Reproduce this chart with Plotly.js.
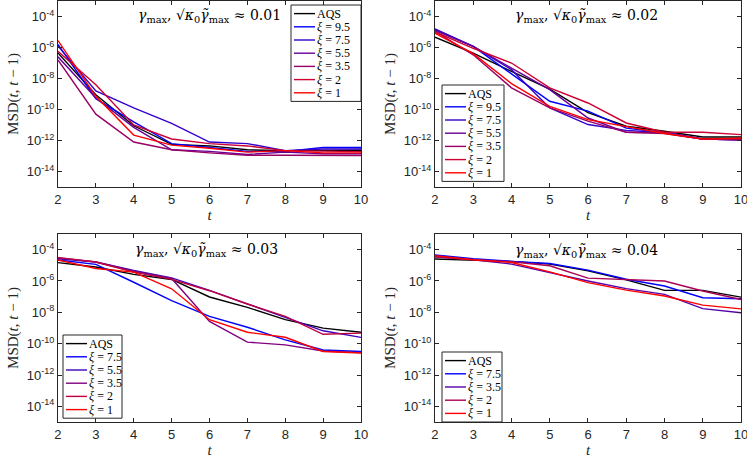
<!DOCTYPE html>
<html>
<head>
<meta charset="utf-8">
<script src="https://cdn.plot.ly/plotly-3.0.1.min.js"></script>
<style>
  body { margin: 0; background: #fff; }
  #chart { width: 747px; height: 458px; }
</style>
</head>
<body>
<div id="chart"></div>
<script>
// time steps shared by every panel
var steps = [2, 3, 4, 5, 6, 7, 8, 9, 10]

// values are log10 of MSD(t, t-1)
// panel a: gamma ~ 0.01
var a_AQS = [-6.35, -9.05, -11.05, -12.25, -12.35, -12.6, -12.65, -12.65, -12.63]
var a_xi95 = [-5.8, -9.3, -10.8, -12.2, -12.45, -12.7, -12.7, -12.45, -12.45]
var a_xi75 = [-5.9, -8.8, -9.9, -10.9, -12.1, -12.2, -12.65, -12.55, -12.55]
var a_xi55 = [-6.6, -9.25, -11.15, -12.6, -12.7, -12.9, -12.75, -12.85, -12.85]
var a_xi35 = [-6.8, -10.3, -12.1, -12.6, -12.8, -12.95, -12.95, -12.97, -12.97]
var a_xi2 = [-6.25, -8.4, -11.0, -11.9, -12.2, -12.35, -12.65, -12.7, -12.72]
var a_xi1 = [-5.55, -9.15, -11.65, -12.3, -12.5, -12.75, -12.65, -12.8, -12.8]

// panel b: gamma ~ 0.02
var b_AQS = [-5.33, -6.36, -7.54, -8.68, -10.2, -11.08, -11.4, -11.77, -11.77]
var b_xi95 = [-4.85, -5.93, -7.7, -9.47, -10.1, -11.2, -11.5, -11.9, -11.95]
var b_xi75 = [-4.8, -5.93, -7.43, -9.9, -10.97, -11.35, -11.5, -11.9, -11.95]
var b_xi55 = [-4.9, -5.93, -7.33, -8.72, -10.55, -11.47, -11.5, -11.9, -11.95]
var b_xi35 = [-4.95, -6.47, -8.6, -9.9, -10.75, -11.47, -11.55, -11.9, -11.95]
var b_xi2 = [-5.0, -6.05, -7.0, -8.6, -9.58, -10.87, -11.47, -11.47, -11.62]
var b_xi1 = [-5.07, -6.4, -8.33, -9.8, -10.65, -11.12, -11.55, -11.9, -11.85]

// panel c: gamma ~ 0.03
var c_AQS = [-4.83, -5.11, -5.58, -5.9, -7.02, -7.68, -8.47, -9.01, -9.27]
var c_xi75 = [-4.66, -4.94, -6.08, -7.25, -8.26, -8.95, -9.76, -10.4, -10.5]
var c_xi55 = [-4.58, -4.79, -5.33, -5.8, -6.6, -7.47, -8.3, -9.18, -9.6]
var c_xi35 = [-4.51, -4.79, -5.38, -5.84, -8.58, -9.9, -10.08, -10.47, -10.57]
var c_xi2 = [-4.51, -4.79, -5.43, -5.9, -6.62, -7.47, -8.26, -9.4, -9.33]
var c_xi1 = [-4.66, -5.2, -5.43, -6.5, -8.47, -9.27, -9.59, -10.5, -10.6]

// panel d: gamma ~ 0.04
var d_AQS = [-4.6, -4.66, -4.75, -4.92, -5.35, -5.93, -6.6, -6.6, -7.03]
var d_xi75 = [-4.34, -4.58, -4.75, -4.88, -5.31, -5.89, -6.32, -7.07, -7.13]
var d_xi35 = [-4.45, -4.64, -4.92, -5.46, -6.0, -6.49, -6.85, -7.76, -8.03]
var d_xi2 = [-4.45, -4.64, -4.77, -5.03, -5.82, -5.89, -6.0, -6.64, -7.18]
var d_xi1 = [-4.39, -4.64, -4.82, -5.42, -6.1, -6.58, -6.96, -7.54, -7.78]

var tickExp = [-14, -12, -10, -8, -6, -4]

var panels = [
    { ax: "", label: "0.01",
      names: ["AQS", "9.5", "7.5", "5.5", "3.5", "2", "1"],
      series: [a_AQS, a_xi95, a_xi75, a_xi55, a_xi35, a_xi2, a_xi1] },
    { ax: "2", label: "0.02",
      names: ["AQS", "9.5", "7.5", "5.5", "3.5", "2", "1"],
      series: [b_AQS, b_xi95, b_xi75, b_xi55, b_xi35, b_xi2, b_xi1] },
    { ax: "3", label: "0.03",
      names: ["AQS", "7.5", "5.5", "3.5", "2", "1"],
      series: [c_AQS, c_xi75, c_xi55, c_xi35, c_xi2, c_xi1] },
    { ax: "4", label: "0.04",
      names: ["AQS", "7.5", "3.5", "2", "1"],
      series: [d_AQS, d_xi75, d_xi35, d_xi2, d_xi1] }
]

// legend boxes, pixel position of top-left corner (matlab style, compact)
var legendBox = [[291, 5, 70], [442, 85, 62], [63, 335, 59], [442, 352, 60]]
var rowPx = 13.2

var W = 747, H = 458

// blue -> red across the xi curves of a panel
function rampColor(i, n) {
    var f = n > 1 ? i / (n - 1) : 0
    var r = Math.round(255 * f)
    var b = Math.round(255 * (1 - f))
    return "rgb(" + r + ",0," + b + ")"
}

function colorOf(k, n) {
    return k === 0 ? "#000000" : rampColor(k - 1, n - 1)
}

function labelOf(p, k) {
    return k === 0 ? "AQS" : "<i>ξ</i> = " + p.names[k]
}

var data = []
panels.forEach(function (p) {
    var n = p.names.length
    p.series.forEach(function (s, k) {
        data.push({
            x: steps,
            y: s.map(function (v) { return Math.pow(10, v) }),
            name: labelOf(p, k),
            mode: "lines",
            type: "scatter",
            xaxis: "x" + p.ax,
            yaxis: "y" + p.ax,
            showlegend: false,
            line: { color: colorOf(k, n), width: 1.4 }
        })
    })
})

var serif = "Liberation Serif, DejaVu Serif, serif"
var sans = "Liberation Sans, Arial, sans-serif"

function xAxis(domain, anchor) {
    return {
        domain: domain, anchor: anchor,
        range: [2, 10], tickvals: steps,
        ticks: "inside", ticklen: 4, tickcolor: "#262626",
        showline: true, mirror: "ticks", linecolor: "#262626", linewidth: 1,
        showgrid: false, zeroline: false, ticklabeloverflow: "allow",
        tickfont: { family: sans, size: 13, color: "#262626" },
        title: { text: "<i>t</i>", font: { family: serif, size: 15, color: "#262626" }, standoff: 1 }
    }
}

function yAxis(domain, anchor) {
    return {
        domain: domain, anchor: anchor,
        type: "log", range: [-15, -3],
        tickvals: tickExp.map(function (e) { return Math.pow(10, e) }),
        ticktext: tickExp.map(function (e) { return "10<sup>" + e + "</sup>" }),
        ticks: "inside", ticklen: 4, tickcolor: "#262626",
        showline: true, mirror: "ticks", linecolor: "#262626", linewidth: 1,
        showgrid: false, zeroline: false, ticklabeloverflow: "allow",
        tickfont: { family: sans, size: 13, color: "#262626" },
        title: { text: "MSD(<i>t</i>, <i>t</i> − 1)", font: { family: serif, size: 15, color: "#262626" }, standoff: 4 }
    }
}

var colL = [0.0776, 0.4833]
var colR = [0.5823, 0.992]
var rowT = [0.5917, 0.9978]
var rowB = [0.0786, 0.4891]

var annX = [0.281, 0.785, 0.276, 0.785]
var annY = [0.965, 0.965, 0.455, 0.452]

var shapes = []
var annotations = []

panels.forEach(function (p, i) {
    annotations.push({
        xref: "paper", yref: "paper", x: annX[i], y: annY[i],
        xanchor: "center", yanchor: "middle", showarrow: false,
        text: "<i>γ</i><sub>max</sub>, √<i>κ</i><sub>0</sub><i>γ̃</i><sub>max</sub> ≈ " + p.label,
        font: { family: "DejaVu Serif, serif", size: 14, color: "#000000" }
    })

    // compact legend drawn from the same names and colours as the traces
    var n = p.names.length
    var bx = legendBox[i][0], by = legendBox[i][1], bw = legendBox[i][2]
    var bh = n * rowPx + 4
    shapes.push({
        type: "rect", xref: "paper", yref: "paper",
        x0: bx / W, x1: (bx + bw) / W, y0: 1 - by / H, y1: 1 - (by + bh) / H,
        fillcolor: "#ffffff", line: { color: "#262626", width: 1 }
    })
    for (var k = 0; k < n; k++) {
        var cy = by + 2 + rowPx * (k + 0.5)
        shapes.push({
            type: "line", xref: "paper", yref: "paper",
            x0: (bx + 3) / W, x1: (bx + 24) / W, y0: 1 - cy / H, y1: 1 - cy / H,
            line: { color: colorOf(k, n), width: 1.4 }
        })
        annotations.push({
            xref: "paper", yref: "paper", x: (bx + 24) / W, y: 1 - cy / H,
            xanchor: "left", yanchor: "middle", showarrow: false,
            text: labelOf(p, k),
            font: { family: serif, size: 12, color: "#000000" }
        })
    }
})

var layout = {
    width: W,
    height: H,
    margin: { t: 0, b: 0, l: 0, r: 0, pad: 0 },
    paper_bgcolor: "#ffffff",
    plot_bgcolor: "#ffffff",
    showlegend: false,
    xaxis: xAxis(colL, "y"),
    yaxis: yAxis(rowT, "x"),
    xaxis2: xAxis(colR, "y2"),
    yaxis2: yAxis(rowT, "x2"),
    xaxis3: xAxis(colL, "y3"),
    yaxis3: yAxis(rowB, "x3"),
    xaxis4: xAxis(colR, "y4"),
    yaxis4: yAxis(rowB, "x4"),
    shapes: shapes,
    annotations: annotations
}

Plotly.newPlot("chart", data, layout, { displayModeBar: false, staticPlot: true })
</script>
</body>
</html>
